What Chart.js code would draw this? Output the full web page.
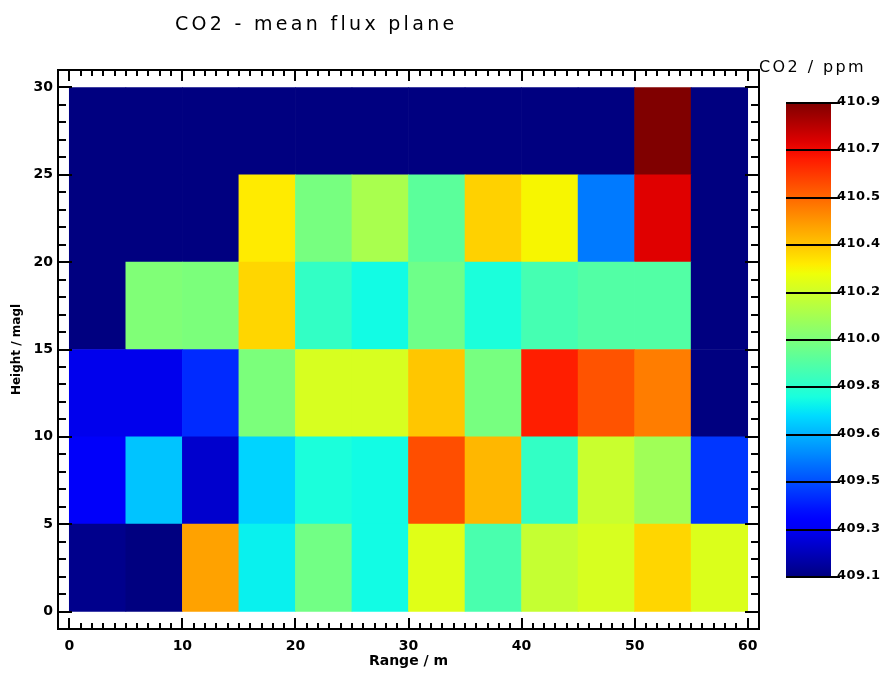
<!DOCTYPE html>
<html>
<head>
<meta charset="utf-8">
<title>CO2 - mean flux plane</title>
<script src="https://cdn.jsdelivr.net/npm/chart.js@4.4.1/dist/chart.umd.min.js"></script>
<style>
  body { margin: 0; background: #fff; }
  #fluxPlane { display: block; }
</style>
</head>
<body>
<canvas id="fluxPlane" width="883" height="673"></canvas>
<script>
// grid cells are 5 m x 5 m, edges given from the lower left corner
const rangeEdges = [0, 5, 10, 15, 20, 25, 30, 35, 40, 45, 50, 55];
const heightEdges = [0, 5, 10, 15, 20, 25];
const cellSize = 5;

// mean CO2 (ppm) per height band, left to right along the range
const co2Height0 = [409.12, 409.10, 410.43, 409.75, 409.98, 409.77, 410.22, 409.89, 410.16, 410.20, 410.33, 410.21];
const co2Height5 = [409.29, 409.67, 409.22, 409.70, 409.79, 409.77, 410.59, 410.39, 409.84, 410.17, 410.08, 409.42];
const co2Height10 = [409.27, 409.27, 409.40, 410.00, 410.20, 410.20, 410.36, 409.99, 410.68, 410.58, 410.50, 409.10];
const co2Height15 = [409.10, 410.01, 410.00, 410.33, 409.84, 409.77, 409.97, 409.79, 409.88, 409.91, 409.91, 409.10];
const co2Height20 = [409.10, 409.10, 409.10, 410.29, 409.99, 410.10, 409.93, 410.34, 410.27, 409.54, 410.75, 409.10];
const co2Height25 = [409.10, 409.10, 409.10, 409.10, 409.10, 409.10, 409.10, 409.10, 409.10, 409.10, 410.90, 409.10];
const co2Rows = [co2Height0, co2Height5, co2Height10, co2Height15, co2Height20, co2Height25];

// colour bar
const co2Min = 409.1;
const co2Max = 410.9;
const co2BarLabels = ['409.1', '409.3', '409.5', '409.6', '409.8', '410.0', '410.2', '410.4', '410.5', '410.7', '410.9'];

function interp(t, pts) {
  for (let i = 1; i < pts.length; i++) {
    if (t <= pts[i][0]) {
      const [t0, v0] = pts[i - 1];
      const [t1, v1] = pts[i];
      return v0 + (v1 - v0) * (t - t0) / (t1 - t0);
    }
  }
  return pts[pts.length - 1][1];
}

// jet colour table
function jet(value) {
  const t = Math.min(1, Math.max(0, (value - co2Min) / (co2Max - co2Min)));
  const r = interp(t, [[0, 0], [0.35, 0], [0.66, 1], [0.89, 1], [1, 0.5]]);
  const g = interp(t, [[0, 0], [0.125, 0], [0.375, 1], [0.64, 1], [0.91, 0], [1, 0]]);
  const b = interp(t, [[0, 0.5], [0.11, 1], [0.34, 1], [0.65, 0], [1, 0]]);
  return 'rgb(' + Math.round(r * 255) + ',' + Math.round(g * 255) + ',' + Math.round(b * 255) + ')';
}

const datasets = co2Rows.map((row, i) => ({
  label: heightEdges[i] + '-' + (heightEdges[i] + cellSize) + ' m',
  data: row.map((v, j) => ({ x: rangeEdges[j] + cellSize / 2, y: [heightEdges[i], heightEdges[i] + cellSize] })),
  backgroundColor: row.map(v => jet(v)),
  borderWidth: 0,
  barPercentage: 1,
  categoryPercentage: 1,
}));

function line(ctx, x1, y1, x2, y2) {
  ctx.beginPath();
  ctx.moveTo(x1, y1);
  ctx.lineTo(x2, y2);
  ctx.stroke();
}

// box with inward ticks on all four sides
const frame = {
  id: 'frame',
  afterDatasetsDraw(chart) {
    const { ctx, chartArea: a, scales: { x, y } } = chart;
    ctx.save();
    ctx.strokeStyle = '#000';
    ctx.lineWidth = 2;
    for (let v = Math.ceil(x.min); v <= Math.floor(x.max); v++) {
      const px = Math.round(x.getPixelForValue(v));
      const len = v % 10 === 0 ? 11 : 6;
      line(ctx, px, a.bottom, px, a.bottom - len);
      line(ctx, px, a.top, px, a.top + len);
    }
    for (let v = Math.ceil(y.min); v <= Math.floor(y.max); v++) {
      const py = Math.round(y.getPixelForValue(v));
      const len = v % 5 === 0 ? 14 : 8;
      line(ctx, a.left, py, a.left + len, py);
      line(ctx, a.right, py, a.right - len, py);
    }
    ctx.strokeRect(a.left, a.top, a.right - a.left, a.bottom - a.top);
    ctx.restore();
  },
  afterDraw(chart) {
    const ctx = chart.ctx;
    ctx.save();
    ctx.fillStyle = '#000';
    ctx.textBaseline = 'alphabetic';

    ctx.font = '19px "DejaVu Sans"';
    ctx.letterSpacing = '3.3px';
    ctx.fillText('CO2 - mean flux plane', 175, 30);

    ctx.font = '16px "DejaVu Sans"';
    ctx.letterSpacing = '2.4px';
    ctx.fillText('CO2 / ppm', 759, 72);

    // colour bar
    const left = 786, top = 103, width = 45, height = 474;
    const grad = ctx.createLinearGradient(0, top + height, 0, top);
    for (let i = 0; i <= 50; i++) {
      grad.addColorStop(i / 50, jet(co2Min + (co2Max - co2Min) * i / 50));
    }
    ctx.fillStyle = grad;
    ctx.fillRect(left, top, width, height);

    ctx.strokeStyle = '#000';
    ctx.lineWidth = 2;
    ctx.fillStyle = '#000';
    ctx.font = 'bold 13px "DejaVu Sans"';
    ctx.letterSpacing = '0.5px';
    co2BarLabels.forEach((lbl, i) => {
      const py = Math.round(top + height - height * i / (co2BarLabels.length - 1));
      line(ctx, left, py, left + 54, py);
      ctx.fillText(lbl, left + 51, py + 2);
    });
    ctx.restore();
  }
};

const tickFont = { family: 'DejaVu Sans', size: 14, weight: 'bold' };

const chart = new Chart('fluxPlane', {
  type: 'bar',
  data: { datasets: datasets },
  plugins: [frame],
  options: {
    responsive: false,
    animation: false,
    grouped: false,
    layout: { padding: { top: 70, right: 124, left: 0, bottom: 0 } },
    plugins: {
      legend: { display: false },
      tooltip: { enabled: false },
    },
    scales: {
      x: {
        type: 'linear',
        offset: false,
        min: -1,
        max: 61,
        grid: { display: false, drawTicks: false },
        border: { display: false },
        ticks: { stepSize: 10, includeBounds: false, color: '#000', font: tickFont, padding: 9, maxRotation: 0 },
        title: { display: true, text: 'Range / m', color: '#000', font: { family: 'DejaVu Sans', size: 14, weight: 'bold' }, padding: { top: 0, bottom: 3 } },
        afterFit(scale) { scale.height = 44; },
      },
      y: {
        type: 'linear',
        min: -1,
        max: 31,
        grid: { display: false, drawTicks: false },
        border: { display: false },
        ticks: { stepSize: 5, includeBounds: false, color: '#000', font: tickFont, padding: 5 },
        title: { display: true, text: 'Height / magl', color: '#000', font: { family: 'DejaVu Sans', size: 12, weight: 'bold' }, padding: { top: 10, bottom: 0 } },
        afterFit(scale) { scale.width = 58; },
      },
    },
  },
});
</script>
</body>
</html>
